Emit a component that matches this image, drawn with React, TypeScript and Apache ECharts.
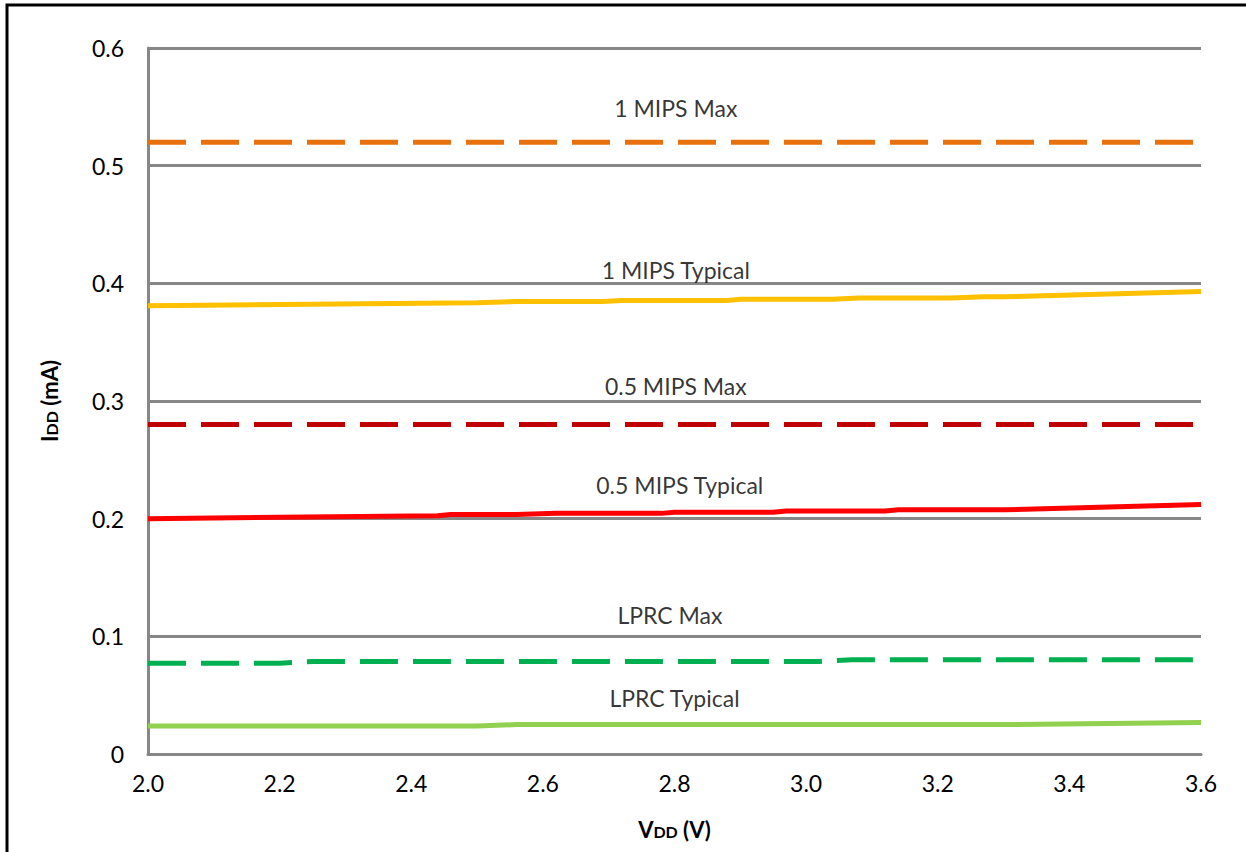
import React, { useEffect, useRef } from "react";
import * as echarts from "echarts";

const xTicks = [2.0, 2.2, 2.4, 2.6, 2.8, 3.0, 3.2, 3.4, 3.6];

const mips1Max: [number, number][] = [[2.0, 0.52], [3.6, 0.52]];
const mips1Typ: [number, number][] = [
  [2.0, 0.381], [2.5, 0.3835], [2.56, 0.3845], [2.69, 0.3845], [2.72, 0.3855],
  [2.88, 0.3855], [2.9, 0.3865], [3.04, 0.3865], [3.08, 0.3875], [3.22, 0.3875],
  [3.27, 0.3885], [3.3, 0.3885], [3.6, 0.393],
];
const mips05Max: [number, number][] = [[2.0, 0.28], [3.6, 0.28]];
const mips05Typ: [number, number][] = [
  [2.0, 0.2], [2.44, 0.2025], [2.46, 0.2035], [2.56, 0.2035], [2.62, 0.2045],
  [2.78, 0.2045], [2.8, 0.2055], [2.95, 0.2055], [2.97, 0.2065], [3.12, 0.2065],
  [3.14, 0.2075], [3.3, 0.2075], [3.6, 0.212],
];
const lprcMax: [number, number][] = [
  [2.0, 0.0772], [2.2, 0.0772], [2.25, 0.0787], [3.02, 0.0787], [3.07, 0.08], [3.6, 0.08],
];
const lprcTyp: [number, number][] = [
  [2.0, 0.0238], [2.5, 0.0238], [2.56, 0.025], [3.3, 0.025], [3.6, 0.0268],
];

const seriesLabels = [
  { name: "1 MIPS Max", value: [2.802, 0.549] },
  { name: "1 MIPS Typical", value: [2.802, 0.411] },
  { name: "0.5 MIPS Max", value: [2.802, 0.3127] },
  { name: "0.5 MIPS Typical", value: [2.808, 0.2286] },
  { name: "LPRC Max", value: [2.793, 0.1181] },
  { name: "LPRC Typical", value: [2.8, 0.0476] },
];

const FONT = "Lato, 'Open Sans', sans-serif";

export default function App() {
  const ref = useRef<HTMLDivElement>(null);
  useEffect(() => {
    document.body.style.margin = "0";
    const chart = echarts.init(ref.current!, undefined, { renderer: "svg" });
    const line = (name: string, data: [number, number][], color: string, dashed: boolean) => ({
      name,
      type: "line",
      data,
      symbol: "none",
      lineStyle: { color, width: 5, type: dashed ? [38, 15] : "solid", cap: "butt" },
      z: 3,
    });
    const nameRich = {
      b: { fontSize: 22, fontWeight: "bold", color: "#000", fontFamily: FONT },
      s: { fontSize: 16, fontWeight: "bold", color: "#000", fontFamily: FONT, padding: [4, 0, 0, 0] },
    };
    chart.setOption({
      animation: false,
      textStyle: { fontFamily: FONT },
      grid: { left: 148, right: 45, top: 48, bottom: 98 },
      xAxis: {
        type: "value",
        min: 2.0,
        max: 3.6,
        interval: 0.2,
        axisLine: { show: true, lineStyle: { color: "#878787", width: 3 } },
        axisTick: { show: false },
        splitLine: { show: false },
        axisLabel: {
          color: "#000",
          fontSize: 23,
          margin: 17,
          fontFamily: FONT,
          formatter: (v: number) => v.toFixed(1),
        },
        name: "{b|V}{s|DD}{b| (V)}",
        nameLocation: "middle",
        nameGap: 64,
        nameTextStyle: { fontSize: 22, fontWeight: "bold", rich: nameRich },
      },
      yAxis: {
        type: "value",
        min: 0,
        max: 0.6,
        interval: 0.1,
        axisLine: { show: true, lineStyle: { color: "#878787", width: 3 } },
        axisTick: { show: false },
        splitLine: { show: true, lineStyle: { color: "#878787", width: 3 } },
        axisLabel: {
          color: "#000",
          fontSize: 23,
          margin: 24,
          fontFamily: FONT,
          formatter: (v: number) => (v === 0 ? "0" : v.toFixed(1)),
        },
        name: "{b|I}{s|DD}{b| (mA)}",
        nameLocation: "middle",
        nameGap: 88,
        nameRotate: 90,
        nameTextStyle: { fontSize: 22, fontWeight: "bold", rich: nameRich },
      },
      graphic: [
        {
          type: "rect",
          shape: { x: 7, y: 5, width: 1400, height: 1000 },
          style: { fill: "none", stroke: "#000", lineWidth: 3 },
          z: 0,
          silent: true,
        },
      ],
      series: [
        line("1 MIPS Max", mips1Max, "#E8710E", true),
        line("1 MIPS Typical", mips1Typ, "#FFC000", false),
        line("0.5 MIPS Max", mips05Max, "#C00000", true),
        line("0.5 MIPS Typical", mips05Typ, "#FF0000", false),
        line("LPRC Max", lprcMax, "#00B050", true),
        line("LPRC Typical", lprcTyp, "#92D050", false),
        {
          type: "scatter",
          data: seriesLabels,
          symbolSize: 1,
          itemStyle: { color: "rgba(0,0,0,0)" },
          label: {
            show: true,
            position: "inside",
            formatter: (p: any) => p.name,
            color: "#000",
            fontSize: 23,
            fontFamily: FONT,
          },
          z: 4,
        },
      ],
    });
    return () => chart.dispose();
  }, []);
  return <div ref={ref} style={{ width: 1246, height: 852 }} />;
}
